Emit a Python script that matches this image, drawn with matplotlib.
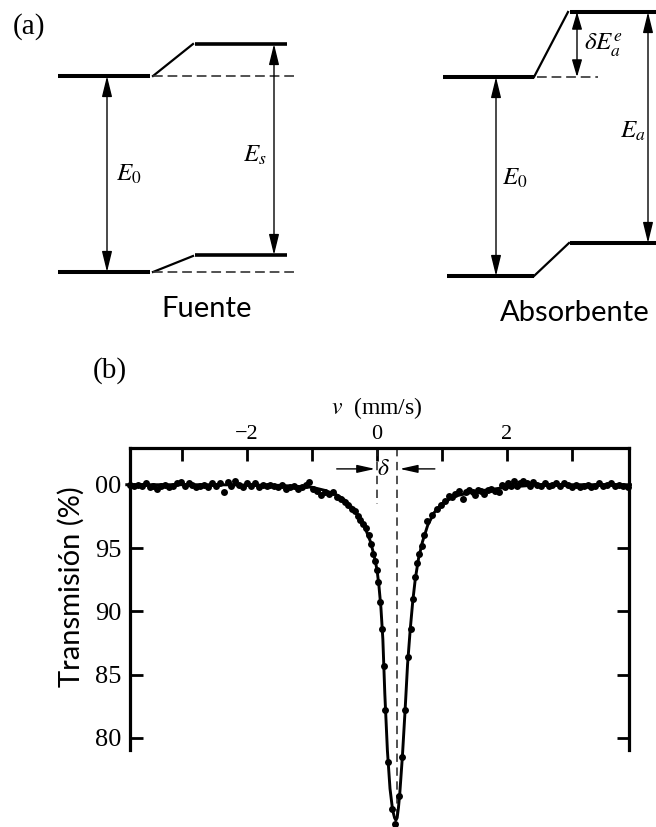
import matplotlib
matplotlib.use("Agg")
import matplotlib.pyplot as plt

# ---- Moessbauer spectrum, panel (b) ----
# measured points: velocity (mm/s), transmission (%)
vel = [-3.80, -3.74, -3.68, -3.62, -3.56, -3.50, -3.44, -3.38, -3.32, -3.26,
       -3.20, -3.14, -3.08, -3.02, -2.96, -2.90, -2.84, -2.78, -2.72, -2.66,
       -2.60, -2.54, -2.48, -2.42, -2.36, -2.30, -2.24, -2.18, -2.12, -2.06,
       -2.00, -1.94, -1.88, -1.82, -1.76, -1.70, -1.64, -1.58, -1.52, -1.46,
       -1.40, -1.34, -1.28, -1.22, -1.16, -1.10, -1.04, -0.98, -0.92, -0.86,
       -0.80, -0.74, -0.68, -0.62, -0.56, -0.50, -0.44, -0.38, -0.34, -0.30,
       -0.26, -0.21, -0.17, -0.13, -0.09, -0.06, -0.03, 0.00, 0.02, 0.05,
       0.08, 0.10, 0.12, 0.17, 0.23, 0.28,
       0.34, 0.38, 0.43, 0.47, 0.52, 0.56, 0.59, 0.61, 0.64, 0.69,
       0.72, 0.77, 0.84, 0.92, 0.99, 1.05, 1.11, 1.15, 1.20, 1.26,
       1.33, 1.37, 1.42, 1.47, 1.51, 1.55, 1.60, 1.65, 1.70, 1.76,
       1.82, 1.87, 1.92, 1.97, 2.02, 2.06, 2.10, 2.15, 2.20, 2.25,
       2.30, 2.35, 2.40, 2.46, 2.52, 2.58, 2.64, 2.70, 2.76, 2.82,
       2.88, 2.94, 3.00, 3.06, 3.12, 3.18, 3.24, 3.30, 3.36, 3.42,
       3.48, 3.54, 3.60, 3.66, 3.72, 3.78, 3.86]
trans = [100.0, 99.9, 100.0, 99.9, 100.1, 99.8, 99.9, 99.7, 99.9, 100.0,
         99.8, 99.9, 100.1, 100.2, 99.9, 100.1, 100.0, 99.8, 99.9, 100.0,
         99.8, 100.1, 99.9, 100.1, 99.4, 100.2, 99.9, 100.3, 100.0, 99.8,
         100.1, 99.9, 100.1, 99.8, 100.0, 99.9, 100.0, 99.9, 99.8, 100.0,
         99.7, 99.8, 99.9, 99.7, 99.8, 100.0, 100.2, 99.7, 99.5, 99.2,
         99.4, 99.3, 99.4, 99.0, 98.9, 98.6, 98.4, 98.1, 97.9, 97.5,
         97.2, 96.9, 96.6, 96.0, 95.3, 94.5, 94.0, 93.3, 92.3, 90.7,
         88.6, 85.7, 82.2, 78.1, 74.4, 73.2,
         75.4, 78.5, 82.2, 86.4, 88.6, 91.0, 92.7, 93.8, 94.5, 95.2,
         96.0, 97.1, 97.6, 98.1, 98.4, 98.7, 99.1, 99.0, 99.3, 99.5,
         98.9, 99.4, 99.6, 99.4, 99.2, 99.6, 99.5, 99.3, 99.6, 99.7,
         99.5, 99.4, 100.0, 99.8, 100.1, 99.9, 100.3, 99.9, 100.1, 100.3,
         100.1, 99.9, 100.2, 100.0, 99.9, 100.1, 99.9, 100.0, 100.1, 99.9,
         100.1, 100.0, 99.8, 100.0, 99.8, 99.9, 100.0, 99.8, 99.9, 100.1,
         99.9, 100.0, 100.1, 99.9, 100.0, 99.9, 99.8]

# fitted line
fit_v = [-3.85, -2.50, -1.50, -1.00, -0.80, -0.60, -0.50, -0.40, -0.30, -0.20,
         -0.10, -0.05, 0.00, 0.03, 0.06, 0.09, 0.12, 0.16, 0.20, 0.24,
         0.27, 0.29, 0.31, 0.33, 0.35, 0.39, 0.43, 0.47, 0.51, 0.55,
         0.59, 0.64, 0.70, 0.78, 0.88, 1.00, 1.20, 1.50, 2.00, 2.50, 3.90]
fit_t = [100.0, 100.0, 99.95, 99.8, 99.55, 99.15, 98.8, 98.3, 97.6, 96.8,
         95.5, 94.5, 93.3, 92.0, 90.3, 87.8, 83.5, 79.0, 76.0, 74.3,
         73.7, 73.5, 73.7, 74.5, 75.6, 78.5, 82.0, 85.8, 88.5, 90.8,
         92.6, 94.2, 95.5, 96.8, 97.8, 98.5, 99.1, 99.45, 99.8, 100.0, 100.0]

# line positions: source (v = 0) and absorber (v = delta)
src_v = 0.0
abs_v = 0.30

xt_major = [-2, 0, 2]
xt_minor = [-3, -1, 1, 3]
yt = [80, 85, 90, 95, 100]
yt_labels = ["80", "85", "90", "95", "00"]

plt.rcParams['font.family'] = ['Liberation Serif', 'DejaVu Serif']
plt.rcParams['mathtext.fontset'] = 'stix'
plt.rcParams['lines.scale_dashes'] = False
SANS = ['Lato', 'DejaVu Sans']

fig = plt.figure(figsize=(6.56, 8.27), dpi=100)

# ---- panel (a): energy level sketches, drawn in pixel units ----
sk = fig.add_axes([0, 0, 1, 1])
sk.set_xlim(0, 656)
sk.set_ylim(827, 0)
sk.axis('off')


def level(x0, x1, y, lw=2.9):
    sk.plot([x0, x1], [y, y], color='k', lw=lw, solid_capstyle='butt')


def dashed(x0, x1, y):
    sk.plot([x0, x1], [y, y], color='#333333', lw=1.2, dashes=(7, 3.5))


def slope(x0, y0, x1, y1):
    sk.plot([x0, x1], [y0, y1], color='k', lw=1.6)


def arrow(x, y0, y1, hl=0.9):
    sk.annotate('', xy=(x, y1), xytext=(x, y0),
                arrowprops=dict(arrowstyle='<|-|>,head_length=%g,head_width=0.22' % hl,
                                color='k', lw=1.0, mutation_scale=14,
                                shrinkA=0, shrinkB=0))


# source
level(58, 150, 76)
level(58, 150, 272)
slope(153, 76, 193, 44)
slope(153, 272, 193, 256)
level(195, 287, 44, lw=2.6)
level(195, 287, 255, lw=2.6)
dashed(153, 296, 76)
dashed(153, 296, 272)
arrow(107, 76, 272)
arrow(274, 44, 255)
sk.text(129, 174, r'$E_0$', fontsize=18, ha='center', va='center')
sk.text(255, 155, r'$E_s$', fontsize=18, ha='center', va='center')
sk.text(207, 309, 'Fuente', fontsize=21, family=SANS, ha='center', va='center')

# absorber
level(443, 534, 77)
level(447, 534, 276)
slope(534, 77, 568, 12)
slope(534, 276, 569, 243)
level(570, 660, 12)
level(570, 660, 243)
dashed(537, 598, 77)
arrow(577, 12, 77, hl=0.75)
arrow(496, 77, 276)
arrow(648, 12, 243)
sk.text(584, 45, r'$\delta E_a^e$', fontsize=18, ha='left', va='center')
sk.text(620, 131, r'$E_a$', fontsize=18, ha='left', va='center')
sk.text(515, 178, r'$E_0$', fontsize=18, ha='center', va='center')
sk.text(575, 313, 'Absorbente', fontsize=21, family=SANS, ha='center', va='center')

sk.text(13, 27, '(a)', fontsize=21, ha='left', va='center')
sk.text(93, 371, '(b)', fontsize=21, ha='left', va='center')
sk.text(377, 408, r'$v$  (mm/s)', fontsize=17, ha='center', va='center')
sk.text(71, 587, 'Transmisión (%)', fontsize=21, family=SANS, rotation=90,
        ha='center', va='center')

# ---- panel (b): spectrum ----
ax = fig.add_axes([129.5 / 656, 1 - 750 / 827, 499.5 / 656, 302 / 827])
ax.set_xlim(-3.808, 3.877)
ax.set_ylim(79.05, 102.9)
ax.patch.set_alpha(0)

ax.plot(fit_v, fit_t, color='k', lw=2.1, clip_on=False, zorder=3)
ax.plot(vel, trans, 'o', color='k', ms=5.0, mew=0, clip_on=False, zorder=4)

# source / absorber line positions and the shift between them
ax.plot([src_v, src_v], [102.9, 98.5], color='#222222', lw=1.1,
        dashes=(6, 4), clip_on=False)
ax.plot([abs_v, abs_v], [102.9, 73.5], color='#222222', lw=1.1,
        dashes=(6, 4), clip_on=False)
ax.annotate('', xy=(src_v - 0.03, 101.25), xytext=(-0.62, 101.25),
            arrowprops=dict(arrowstyle='-|>,head_length=0.9,head_width=0.2',
                            color='k', lw=1.0, mutation_scale=12,
                            shrinkA=0, shrinkB=0))
ax.annotate('', xy=(abs_v + 0.05, 101.25), xytext=(0.89, 101.25),
            arrowprops=dict(arrowstyle='-|>,head_length=0.9,head_width=0.2',
                            color='k', lw=1.0, mutation_scale=12,
                            shrinkA=0, shrinkB=0))
ax.text(0.10, 101.2, r'$\delta$', fontsize=17, ha='center', va='center')

for side in ['top', 'left', 'right']:
    ax.spines[side].set_linewidth(2.3)
ax.spines['bottom'].set_visible(False)

ax.xaxis.tick_top()
ax.set_xticks(xt_major)
ax.set_xticklabels(['\u22122', '0', '2'])
ax.set_xticks(xt_minor, minor=True)
ax.tick_params(axis='x', which='both', direction='in', length=9, width=2.0,
               top=True, bottom=False, labelsize=16, pad=3)
ax.set_yticks(yt)
ax.set_yticklabels(yt_labels)
ax.tick_params(axis='y', direction='in', length=9, width=2.0, left=True,
               right=True, labelsize=19, pad=6)

fig.savefig('out.png', dpi=100)
